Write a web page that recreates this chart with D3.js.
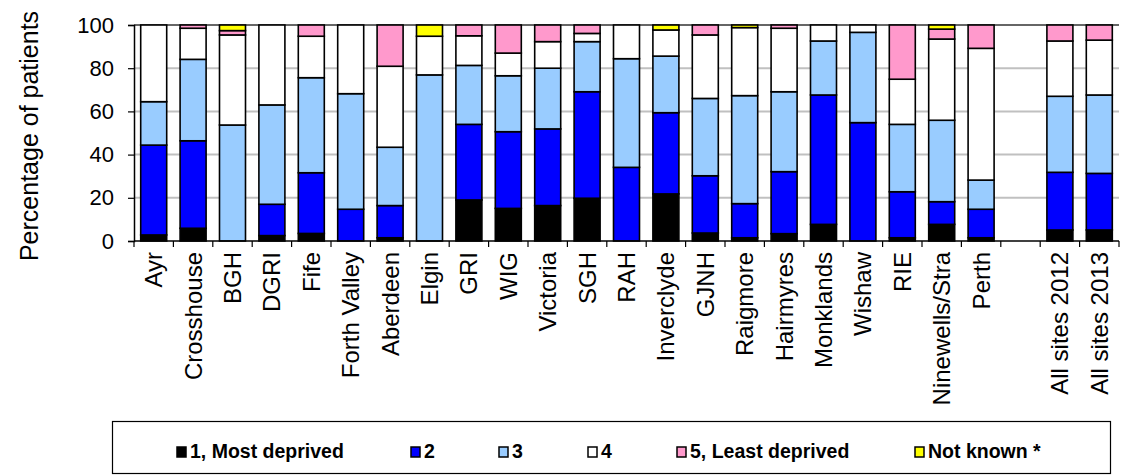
<!DOCTYPE html>
<html><head><meta charset="utf-8">
<script src="https://cdn.jsdelivr.net/npm/d3@7"></script>
<style>body{margin:0;background:#fff}svg{display:block}text{font-family:"Liberation Sans",Arial,sans-serif}</style>
</head><body>
<svg id="c" width="1126" height="476"></svg>
<script>
const categories = ["Ayr","Crosshouse","BGH","DGRI","Fife","Forth Valley","Aberdeen","Elgin","GRI","WIG","Victoria","SGH","RAH","Inverclyde","GJNH","Raigmore","Hairmyres","Monklands","Wishaw","RIE","Ninewells/Stra","Perth","","All sites 2012","All sites 2013"];
const seriesNames = ["1, Most deprived","2","3","4","5, Least deprived","Not known *"];
const q1 = [2.8,5.9,0,2.5,3.5,0,1.5,0,19,15.1,16.4,19.8,0,21.8,3.7,1.5,3.4,7.7,0,1.5,7.7,1.5,0,5.1,5.1];
const q2 = [41.6,40.5,0,14.5,28.1,14.7,14.9,0,35,35.5,35.5,49.3,34.1,37.6,26.5,15.8,28.7,59.9,54.8,21.3,10.5,13.2,0,26.7,26.2];
const q3 = [20.1,37.7,53.7,46,44,53.5,27,76.9,27.3,25.9,28.1,23.2,50.3,26.2,35.8,50,37,25,41.8,31.2,37.7,13.5,0,35.2,36.3];
const q4 = [35.5,14.4,41.7,37,19.2,31.8,37.5,17.9,13.7,10.5,12.3,3.8,15.6,12.1,29.4,31.5,29.4,7.4,3.4,20.9,37.6,61,0,25.6,25.4];
const q5 = [0,1.5,2.0,0,5.2,0,19.1,0,5,13,7.7,3.9,0,0,4.6,0,1.5,0,0,25.1,4.6,10.8,0,7.4,7.0];
const notKnown = [0,0,2.6,0,0,0,0,5.2,0,0,0,0,0,2.3,0,1.2,0,0,0,0,1.9,0,0,0,0];
const yTicks = [0,20,40,60,80,100];
const colors = ["#000000","#0000FF","#99CCFF","#FFFFFF","#FF99CC","#FFFF00"];

const svg = d3.select("#c");
const L = 134, R = 1119, T = 25, B = 241;
const idx = categories.map((d,i)=>i);
const x = d3.scaleBand().domain(idx).range([L,R]).paddingInner(0.34).paddingOuter(0.17);
const y = d3.scaleLinear().domain([0,100]).range([B,T]);

// gridlines
svg.append("g").selectAll("line").data(yTicks.filter(d=>d>0 && d<100)).join("line")
  .attr("x1",L).attr("x2",R).attr("y1",d=>y(d)).attr("y2",d=>y(d))
  .attr("stroke","#c0c0c0").attr("stroke-width",2);
// top frame
svg.append("line").attr("x1",L).attr("x2",R).attr("y1",T).attr("y2",T).attr("stroke","#333").attr("stroke-width",1.5);

const rows = idx.map(i=>({i, v:[q1[i],q2[i],q3[i],q4[i],q5[i],notKnown[i]]}));
const stack = d3.stack().keys([0,1,2,3,4,5]).value((d,k)=>d.v[k]);
const layers = stack(rows);
svg.append("g").selectAll("g").data(layers).join("g")
  .attr("fill",(d,k)=>colors[k])
  .selectAll("rect").data(d=>d.filter(s=>s[1]-s[0]>0)).join("rect")
  .attr("x",d=>x(d.data.i)).attr("width",x.bandwidth())
  .attr("y",d=>y(d[1])).attr("height",d=>y(d[0])-y(d[1]))
  .attr("stroke","#000").attr("stroke-width",1.6);

// y axis
const ya = svg.append("g").attr("transform",`translate(${L},0)`)
  .call(d3.axisLeft(y).tickValues(yTicks).tickSize(6).tickPadding(14));
ya.select(".domain").attr("stroke","#000").attr("stroke-width",1.5);
ya.selectAll(".tick line").attr("stroke","#000").attr("stroke-width",1.2);
ya.selectAll("text").attr("font-size",22).attr("fill","#000").attr("font-family","Liberation Sans, Arial, sans-serif");

// x axis
const step = x.step();
svg.append("line").attr("x1",L).attr("x2",R).attr("y1",B).attr("y2",B).attr("stroke","#000").attr("stroke-width",1.5);
svg.append("g").selectAll("line").data(d3.range(categories.length+1)).join("line")
  .attr("x1",d=>L+d*step).attr("x2",d=>L+d*step).attr("y1",B).attr("y2",B+6)
  .attr("stroke","#000").attr("stroke-width",1.2);
svg.append("g").selectAll("text").data(idx).join("text")
  .attr("transform",d=>`translate(${x(d)+x.bandwidth()/2+8.5},252) rotate(-90)`)
  .attr("text-anchor","end").attr("font-size",24).attr("fill","#000")
  .text(d=>categories[d]);

// y label
svg.append("text").attr("transform","translate(38,136) rotate(-90)")
  .attr("text-anchor","middle").attr("font-size",25).attr("fill","#000")
  .text("Percentage of patients");

// legend
const lg = svg.append("g");
lg.append("rect").attr("x",112.5).attr("y",421.5).attr("width",998).attr("height",52)
  .attr("fill","#fff").attr("stroke","#000").attr("stroke-width",1.2);
const lx = [177,411,499,588,677,915];
const items = lg.selectAll("g").data(seriesNames).join("g")
  .attr("transform",(d,k)=>`translate(${lx[k]},0)`);
items.append("rect").attr("x",0).attr("y",447).attr("width",9).attr("height",10)
  .attr("fill",(d,k)=>colors[k]).attr("stroke","#000").attr("stroke-width",1.5);
items.append("text").attr("x",13).attr("y",458).attr("font-size",19.5).attr("font-weight","bold").attr("fill","#000").text(d=>d);
</script>
</body></html>
